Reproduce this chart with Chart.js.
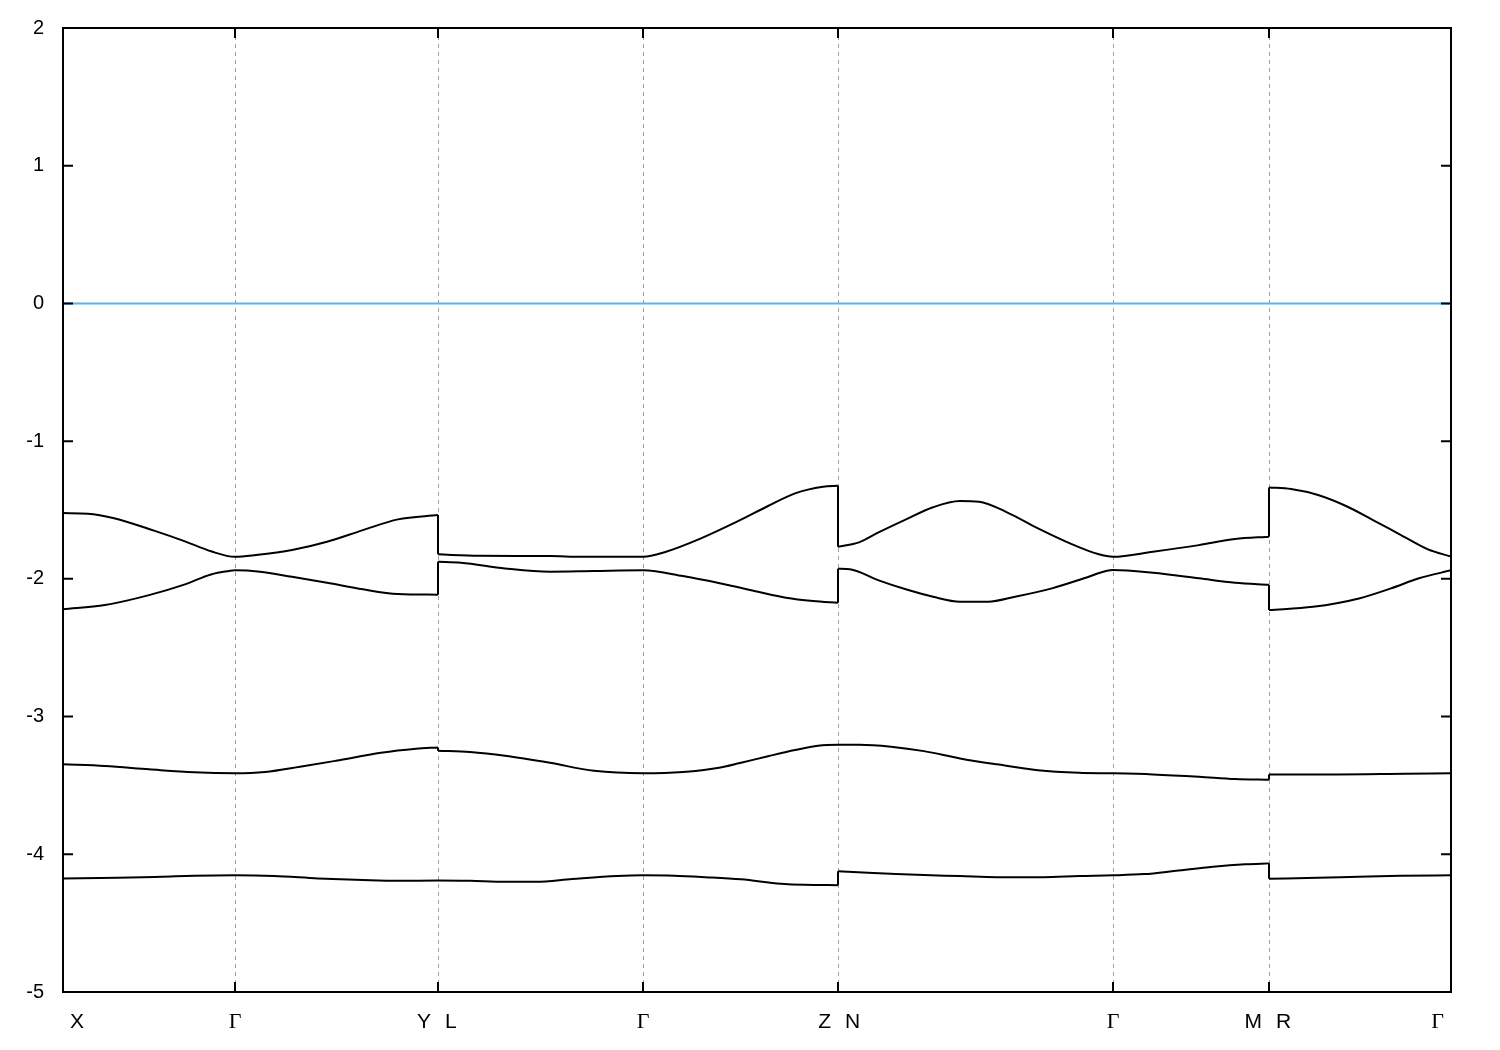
<!DOCTYPE html>
<html>
<head>
<meta charset="utf-8">
<script src="https://cdn.jsdelivr.net/npm/chart.js"></script>
<style>
  html, body { margin: 0; padding: 0; background: #fff; }
  canvas { display: block; }
</style>
</head>
<body>
<canvas id="bandas" width="1500" height="1050"></canvas>
<script>
// ── DATOS ──
// puntos de alta simetría (distancia k) y sus etiquetas
var kPos    = [0, 0.172, 0.375, 0.580, 0.775, 1.050, 1.206, 1.388];
var kLabels = ['X', 'Γ', 'Y|L', 'Γ', 'Z|N', 'Γ', 'M|R', 'Γ'];

// nivel de Fermi
var fermiK = [0, 1.388];
var fermiE = [0, 0];

// banda 1 (la de arriba); un k repetido marca un salto
var band1K = [0, 0.025, 0.050, 0.091, 0.122, 0.148, 0.172, 0.193, 0.229, 0.264, 0.300, 0.335, 0.375,
  0.375, 0.416, 0.487, 0.519, 0.580, 0.603, 0.638, 0.674, 0.705, 0.732, 0.760, 0.775,
  0.775, 0.796, 0.815, 0.842, 0.870, 0.897, 0.916, 0.943, 0.975, 1.007, 1.035, 1.050, 1.090, 1.136, 1.172, 1.206,
  1.206, 1.228, 1.255, 1.283, 1.310, 1.338, 1.365, 1.388];
var band1E = [-1.522, -1.527, -1.558, -1.650, -1.728, -1.800, -1.840, -1.827, -1.791, -1.731, -1.646, -1.568, -1.537,
  -1.822, -1.832, -1.834, -1.840, -1.840, -1.803, -1.706, -1.585, -1.471, -1.379, -1.331, -1.324,
  -1.767, -1.735, -1.665, -1.572, -1.480, -1.435, -1.440, -1.513, -1.633, -1.742, -1.820, -1.840, -1.803, -1.755, -1.711, -1.694,
  -1.336, -1.348, -1.391, -1.471, -1.573, -1.682, -1.786, -1.838];

// banda 2
var band2K = [0, 0.042, 0.086, 0.122, 0.148, 0.166, 0.172, 0.197, 0.229, 0.264, 0.300, 0.335, 0.375,
  0.375, 0.398, 0.442, 0.487, 0.531, 0.580, 0.620, 0.665, 0.695, 0.723, 0.750, 0.775,
  0.775, 0.787, 0.815, 0.842, 0.870, 0.897, 0.925, 0.952, 0.989, 1.021, 1.044, 1.050, 1.090, 1.136, 1.172, 1.206,
  1.206, 1.250, 1.296, 1.328, 1.356, 1.388];
var band2E = [-2.221, -2.190, -2.118, -2.040, -1.968, -1.943, -1.938, -1.948, -1.985, -2.028, -2.076, -2.110, -2.115,
  -1.876, -1.883, -1.924, -1.948, -1.943, -1.938, -1.980, -2.045, -2.094, -2.137, -2.161, -2.174,
  -1.927, -1.931, -2.009, -2.074, -2.130, -2.166, -2.166, -2.130, -2.069, -1.996, -1.941, -1.936, -1.956, -1.996, -2.028, -2.043,
  -2.227, -2.203, -2.142, -2.069, -1.996, -1.938];

// banda 3
var band3K = [0, 0.042, 0.086, 0.131, 0.172, 0.202, 0.237, 0.273, 0.318, 0.353, 0.375,
  0.375, 0.407, 0.442, 0.487, 0.531, 0.580, 0.620, 0.656, 0.677, 0.705, 0.732, 0.755, 0.775,
  0.796, 0.828, 0.861, 0.897, 0.934, 0.975, 1.016, 1.050, 1.090, 1.136, 1.172, 1.206,
  1.206, 1.273, 1.342, 1.388];
var band3E = [-3.347, -3.359, -3.383, -3.405, -3.412, -3.403, -3.365, -3.321, -3.263, -3.234, -3.224,
  -3.248, -3.258, -3.285, -3.336, -3.394, -3.412, -3.403, -3.372, -3.337, -3.288, -3.243, -3.212, -3.205,
  -3.205, -3.219, -3.251, -3.304, -3.347, -3.389, -3.408, -3.412, -3.420, -3.437, -3.454, -3.459,
  -3.420, -3.420, -3.415, -3.412];

// banda 4 (la de abajo)
var band4K = [0, 0.055, 0.099, 0.131, 0.172, 0.211, 0.255, 0.300, 0.335, 0.375,
  0.407, 0.442, 0.473, 0.509, 0.554, 0.580, 0.611, 0.643, 0.678, 0.718, 0.741, 0.775,
  0.775, 0.805, 0.833, 0.861, 0.897, 0.934, 0.980, 1.016, 1.050, 1.081, 1.113, 1.150, 1.182, 1.206,
  1.206, 1.255, 1.296, 1.338, 1.388];
var band4E = [-4.175, -4.171, -4.163, -4.156, -4.153, -4.158, -4.175, -4.187, -4.193, -4.190,
  -4.193, -4.200, -4.200, -4.180, -4.158, -4.153, -4.155, -4.166, -4.182, -4.214, -4.222, -4.224,
  -4.124, -4.134, -4.144, -4.151, -4.158, -4.166, -4.166, -4.158, -4.153, -4.144, -4.120, -4.091, -4.073, -4.066,
  -4.178, -4.171, -4.163, -4.156, -4.153];

var eMin = -5, eMax = 2;

function puntos(ks, es) {
  return ks.map(function(k, i) { return {x: k, y: es[i]}; });
}

function linea(pts, color, suave) {
  return {data: pts, borderColor: color, borderWidth: 2, showLine: true, pointRadius: 0,
          fill: false, tension: suave ? 0.4 : 0, cubicInterpolationMode: suave ? 'monotone' : 'default'};
}

// parte una banda en tramos (donde se repite k) + los saltos verticales
function datasetsBanda(ks, es, color) {
  var out = [], tramo = [];
  ks.forEach(function(k, i) {
    if (i > 0 && k === ks[i-1]) {
      out.push(linea(tramo, color, true));
      out.push(linea([{x: k, y: es[i-1]}, {x: k, y: es[i]}], color, false));
      tramo = [];
    }
    tramo.push({x: k, y: es[i]});
  });
  out.push(linea(tramo, color, true));
  return out;
}

// ── MARCO ESTILO GNUPLOT ──
var marcoPlugin = {
  id: 'marco',
  beforeDatasetsDraw: function(chart) {
    var ctx = chart.ctx, a = chart.chartArea, xs = chart.scales.x;
    ctx.save();
    ctx.strokeStyle = '#a0a0a0';
    ctx.lineWidth = 1;
    ctx.setLineDash([4, 4]);
    for (var i = 1; i < kPos.length - 1; i++) {
      var px = Math.round(xs.getPixelForValue(kPos[i])) + 0.5;
      ctx.beginPath();
      ctx.moveTo(px, a.top);
      ctx.lineTo(px, a.bottom);
      ctx.stroke();
    }
    ctx.restore();
  },
  afterDraw: function(chart) {
    var ctx = chart.ctx, a = chart.chartArea, xs = chart.scales.x, ys = chart.scales.y;
    ctx.save();
    ctx.strokeStyle = '#000';
    ctx.lineWidth = 2;
    ctx.setLineDash([]);
    ctx.strokeRect(a.left, a.top, a.right - a.left, a.bottom - a.top);

    // ticks hacia dentro
    ctx.beginPath();
    for (var v = eMin; v <= eMax; v++) {
      var py = ys.getPixelForValue(v);
      ctx.moveTo(a.left, py);  ctx.lineTo(a.left + 10, py);
      ctx.moveTo(a.right, py); ctx.lineTo(a.right - 10, py);
    }
    for (var i = 1; i < kPos.length - 1; i++) {
      var px = xs.getPixelForValue(kPos[i]);
      ctx.moveTo(px, a.bottom); ctx.lineTo(px, a.bottom - 10);
      ctx.moveTo(px, a.top);    ctx.lineTo(px, a.top + 10);
    }
    ctx.stroke();

    // etiquetas de k
    ctx.fillStyle = '#000';
    ctx.textBaseline = 'alphabetic';
    var base = a.bottom + 36;
    var fuente = function(t) {
      return t === 'Γ' ? '22px "Liberation Serif", "DejaVu Serif", serif'
                       : '21px "Liberation Sans", Arial, sans-serif';
    };
    kLabels.forEach(function(lab, i) {
      var px = xs.getPixelForValue(kPos[i]);
      var partes = lab.split('|');
      if (partes.length === 2) {
        ctx.font = fuente(partes[0]); ctx.textAlign = 'right'; ctx.fillText(partes[0], px - 7, base);
        ctx.font = fuente(partes[1]); ctx.textAlign = 'left';  ctx.fillText(partes[1], px + 7, base);
      } else {
        ctx.font = fuente(lab);
        if (i === 0) { ctx.textAlign = 'left'; ctx.fillText(lab, px + 7, base); }
        else if (i === kLabels.length - 1) { ctx.textAlign = 'right'; ctx.fillText(lab, px - 7, base); }
        else { ctx.textAlign = 'center'; ctx.fillText(lab, px, base); }
      }
    });
    ctx.restore();
  }
};

// ── GRÁFICO ──
var datasets = [linea(puntos(fermiK, fermiE), '#56b4e9', false)]
  .concat(datasetsBanda(band1K, band1E, '#000'))
  .concat(datasetsBanda(band2K, band2E, '#000'))
  .concat(datasetsBanda(band3K, band3E, '#000'))
  .concat(datasetsBanda(band4K, band4E, '#000'));

var chartBandas = new Chart(document.getElementById('bandas'), {
  type: 'scatter',
  data: {datasets: datasets},
  options: {
    responsive: false, devicePixelRatio: 1, animation: false,
    layout: {padding: {top: 28, right: 49, left: 0, bottom: 0}},
    plugins: {legend: {display: false}, tooltip: {enabled: false}},
    scales: {
      x: {type: 'linear', min: kPos[0], max: kPos[kPos.length - 1],
          afterBuildTicks: function(s) { s.ticks = kPos.map(function(k) { return {value: k}; }); },
          afterFit: function(s) { s.height = 58; },
          ticks: {display: false}, grid: {display: false}, border: {display: false}},
      y: {min: eMin, max: eMax,
          // el padding de las etiquetas no debe empujar el área del gráfico
          afterFit: function(s) { s.width = 63; s.paddingTop = 0; s.paddingBottom = 0; },
          ticks: {stepSize: 1, color: '#000', padding: 19,
                  font: {family: '"Liberation Sans", Arial, sans-serif', size: 20}},
          grid: {display: false, drawTicks: false}, border: {display: false}}
    }
  },
  plugins: [marcoPlugin]
});
</script>
</body>
</html>
